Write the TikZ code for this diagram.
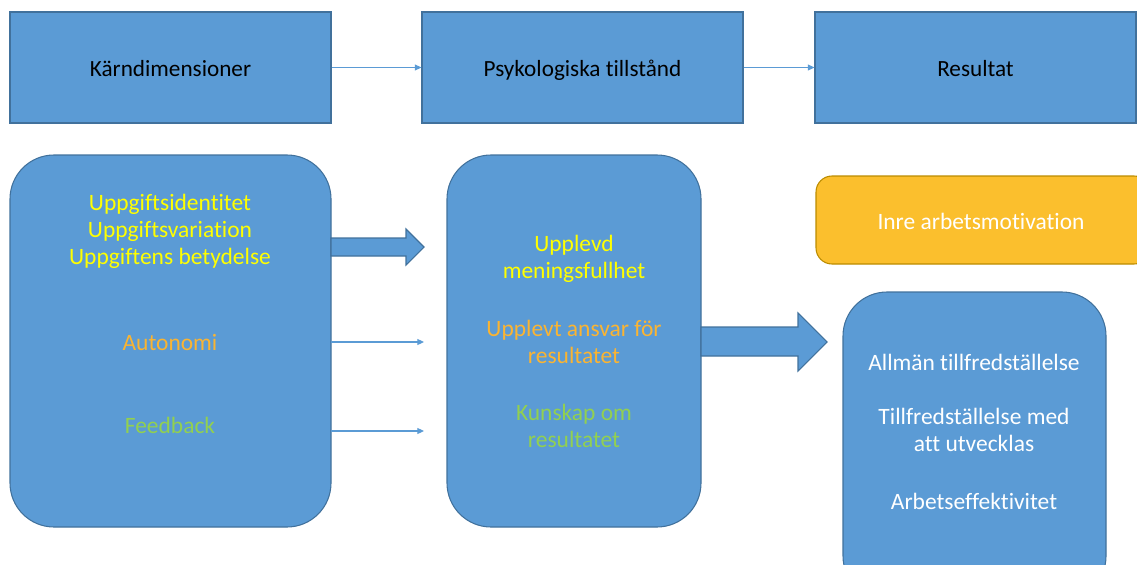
\documentclass[tikz,border=0pt]{standalone}
\usepackage{fontspec}
\setmainfont[Ligatures=NoCommon]{Carlito}
\usetikzlibrary{arrows.meta}
\definecolor{boxblue}{RGB}{91,155,213}
\definecolor{edgeblue}{RGB}{65,113,156}
\definecolor{txtyellow}{RGB}{255,255,0}
\definecolor{txtorange}{RGB}{250,180,50}
\definecolor{txtgreen}{RGB}{146,208,80}
\definecolor{boxorange}{RGB}{251,191,45}
\definecolor{edgeorange}{RGB}{188,140,0}
\tikzset{
  topbox/.style={draw=edgeblue, fill=boxblue, line width=0.8pt, minimum width=240.75pt, minimum height=83.25pt, inner sep=0pt, text height=13pt, text depth=0pt, font=\fontsize{17.4}{20.25}\selectfont, text=black},
  bigbox/.style={draw=edgeblue, fill=boxblue, line width=0.8pt, rounded corners=33pt, inner sep=0pt},
  lbl/.style={align=center, font=\fontsize{17.6}{20.25}\selectfont, inner sep=0pt},
  thin/.style={draw=boxblue, line width=0.8pt, -{Triangle[length=5pt,width=4.5pt]}},
  blockarrow/.style={draw=edgeblue, fill=boxblue, line width=0.8pt, line join=miter}
}
\begin{document}
\begin{tikzpicture}[x=0.75pt, y=-0.75pt]
\useasboundingbox (0,0) rectangle (1137,564);
\clip (0,0) rectangle (1137,564);
% top row
\node[topbox] (k) at (170.5,67.5) {Kärndimensioner};
\node[topbox] (p) at (582.5,67.5) {Psykologiska tillstånd};
\node[topbox] (r) at (975.5,67.5) {Resultat};
\draw[thin] (k.east) -- (p.west);
\draw[thin] (p.east) -- (r.west);
% left big box
\draw[bigbox] (10,155) rectangle (331,527);
\coordinate (lbE1) at (331,342);
\coordinate (lbE2) at (331,431);
\node[lbl, text=txtyellow] (uid) at (170,231) {Uppgiftsidentitet\\Uppgiftsvariation\\Uppgiftens betydelse};
\node[lbl, text=txtorange] (aut) at (170,343) {Autonomi};
\node[lbl, text=txtgreen] (fb) at (170,425) {Feedback};
% middle big box
\draw[bigbox] (447,155) rectangle (701,527);
\coordinate (mbW1) at (424,342);
\coordinate (mbW2) at (424,431);
\node[lbl, text=txtyellow] (men) at (574,258.5) {Upplevd\\meningsfullhet};
\node[lbl, text=txtorange] (ans) at (574,341.5) {Upplevt ansvar för\\resultatet};
\node[lbl, text=txtgreen] (kun) at (574,425.5) {Kunskap om\\resultatet};
% thin arrows
\draw[thin] (lbE1) -- (mbW1);
\draw[thin] (lbE2) -- (mbW2);
% block arrow 1
\draw[blockarrow] (331,238) -- (406,238) -- (406,229) -- (424,247) -- (406,265) -- (406,256) -- (331,256) -- cycle;
% block arrow 2
\draw[blockarrow] (701,327) -- (798,327) -- (798,313) -- (827,342) -- (798,371) -- (798,356) -- (701,356) -- cycle;
% orange box
\draw[draw=edgeorange, fill=boxorange, line width=0.8pt, rounded corners=12pt] (816,176) rectangle (1150,264);
\node[lbl, text=white] (inre) at (981,221) {Inre arbetsmotivation};
% results box
\draw[bigbox] (843,292) rectangle (1106,600);
\node[lbl, text=white] (all) at (974,362) {Allmän tillfredställelse};
\node[lbl, text=white] (till) at (974,430) {Tillfredställelse med\\att utvecklas};
\node[lbl, text=white] (eff) at (974,501) {Arbetseffektivitet};
\end{tikzpicture}
\end{document}
